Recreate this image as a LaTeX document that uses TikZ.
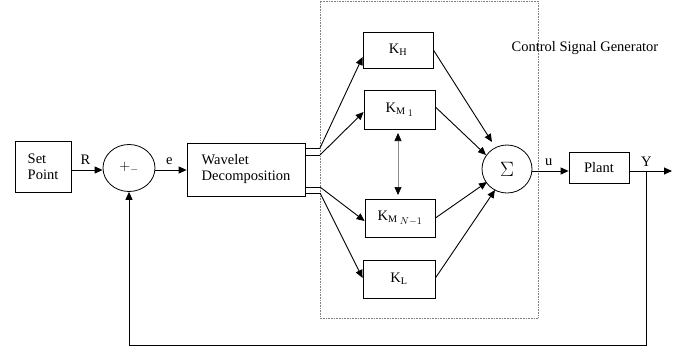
\documentclass[tikz,border=0pt]{standalone}
\usepackage{fontspec}
\setmainfont{Liberation Serif}
\usetikzlibrary{arrows.meta,shapes.geometric}
\begin{document}
\begin{tikzpicture}[x=1pt,y=-1pt,
  font=\fontsize{14.5}{16}\selectfont,
  blk/.style={draw,line width=0.8pt,inner sep=0pt},
  sumnode/.style={draw,ellipse,line width=0.8pt,inner sep=0pt},
  arr/.style={line width=0.9pt,-{Triangle[length=8pt,width=7pt]}},
  ln/.style={line width=0.9pt}]
\useasboundingbox (0,0) rectangle (693,354);
\draw[densely dotted,gray,line width=0.6pt] (320,0.8) rectangle (538,318);
\node[sumnode,minimum width=52pt,minimum height=47pt] (s1) at (129,168) {\Large$+_{-}$};
\node[blk,minimum width=56pt,minimum height=51pt,align=left] (sp) at (43,167) {Set\\Point};
\node[blk,minimum width=118pt,minimum height=53pt,align=left] (wd) at (246,169.5) {Wavelet\\Decomposition};
\node[blk,minimum width=70pt,minimum height=36pt] (kh) at (398,50) {K$_{\mathrm{H}}$};
\node[blk,minimum width=71pt,minimum height=39pt] (km1) at (399.5,109.5) {K$_{\mathrm{M}\;\lower1.5pt\hbox{$\scriptstyle 1$}}$};
\node[blk,minimum width=70pt,minimum height=38pt] (kmn) at (400,218) {K$_{\mathrm{M}\;\lower1.5pt\hbox{$\scriptstyle N-1$}}$};
\node[blk,minimum width=72pt,minimum height=38pt] (kl) at (399,279) {K$_{\mathrm{L}}$};
\node[sumnode,minimum width=50pt,minimum height=48pt] (s2) at (507,169) {\huge$\Sigma$};
\node[blk,minimum width=60pt,minimum height=31pt] (pl) at (599,167.5) {Plant};
\node (ctl) at (585,48) {Control Signal Generator};
\coordinate (o1a) at (320,148);
\coordinate (o1b) at (320,155);
\coordinate (o2a) at (320,187);
\coordinate (o2b) at (320,193);
\coordinate (dA) at (398,133);
\coordinate (dB) at (398,195);
\coordinate (yout) at (672,171);
\coordinate (fb) at (646,171);
\coordinate (fbc) at (646,345);
\coordinate (fbl) at (129,345);
% connectors
\draw[arr] (sp.east |- 0,170) -- (s1.west |- 0,170) node[pos=0.45,above=2pt] {R};
\draw[arr] (s1.east |- 0,170) -- (wd.west |- 0,170) node[pos=0.45,above=2pt] {e};
\draw[ln] (wd.east |- o1a) -- (o1a) (wd.east |- o1b) -- (o1b);
\draw[ln] (wd.east |- o2a) -- (o2a) (wd.east |- o2b) -- (o2b);
\draw[arr] (o1a) -- (kh.west |- 0,57);
\draw[arr] (o1b) -- (km1.west |- 0,112);
\draw[arr] (o2a) -- (kmn.west |- 0,221);
\draw[arr] (o2b) -- (kl.west |- 0,278);
\draw[arr] (kh.east |- 0,50) -- (492,142);
\draw[arr] (km1.east |- 0,107) -- (486,155);
\draw[arr] (kmn.east |- 0,218) -- (487,182);
\draw[arr] (kl.east |- 0,278) -- (495,190);
\draw[black!45,line width=0.6pt,{Triangle[length=8pt,width=7pt,color=black]}-{Triangle[length=8pt,width=7pt,color=black]}] (dA) -- (dB);
\draw[arr] (s2.east |- 0,171) -- (pl.west |- 0,171) node[pos=0.45,above=2pt] {u};
\draw[arr] (pl.east |- 0,171) -- (yout) node[pos=0.4,above=1pt] {Y};
\draw[arr] (fb) -- (fbc) -- (fbl) -- (s1.south);
\end{tikzpicture}
\end{document}
